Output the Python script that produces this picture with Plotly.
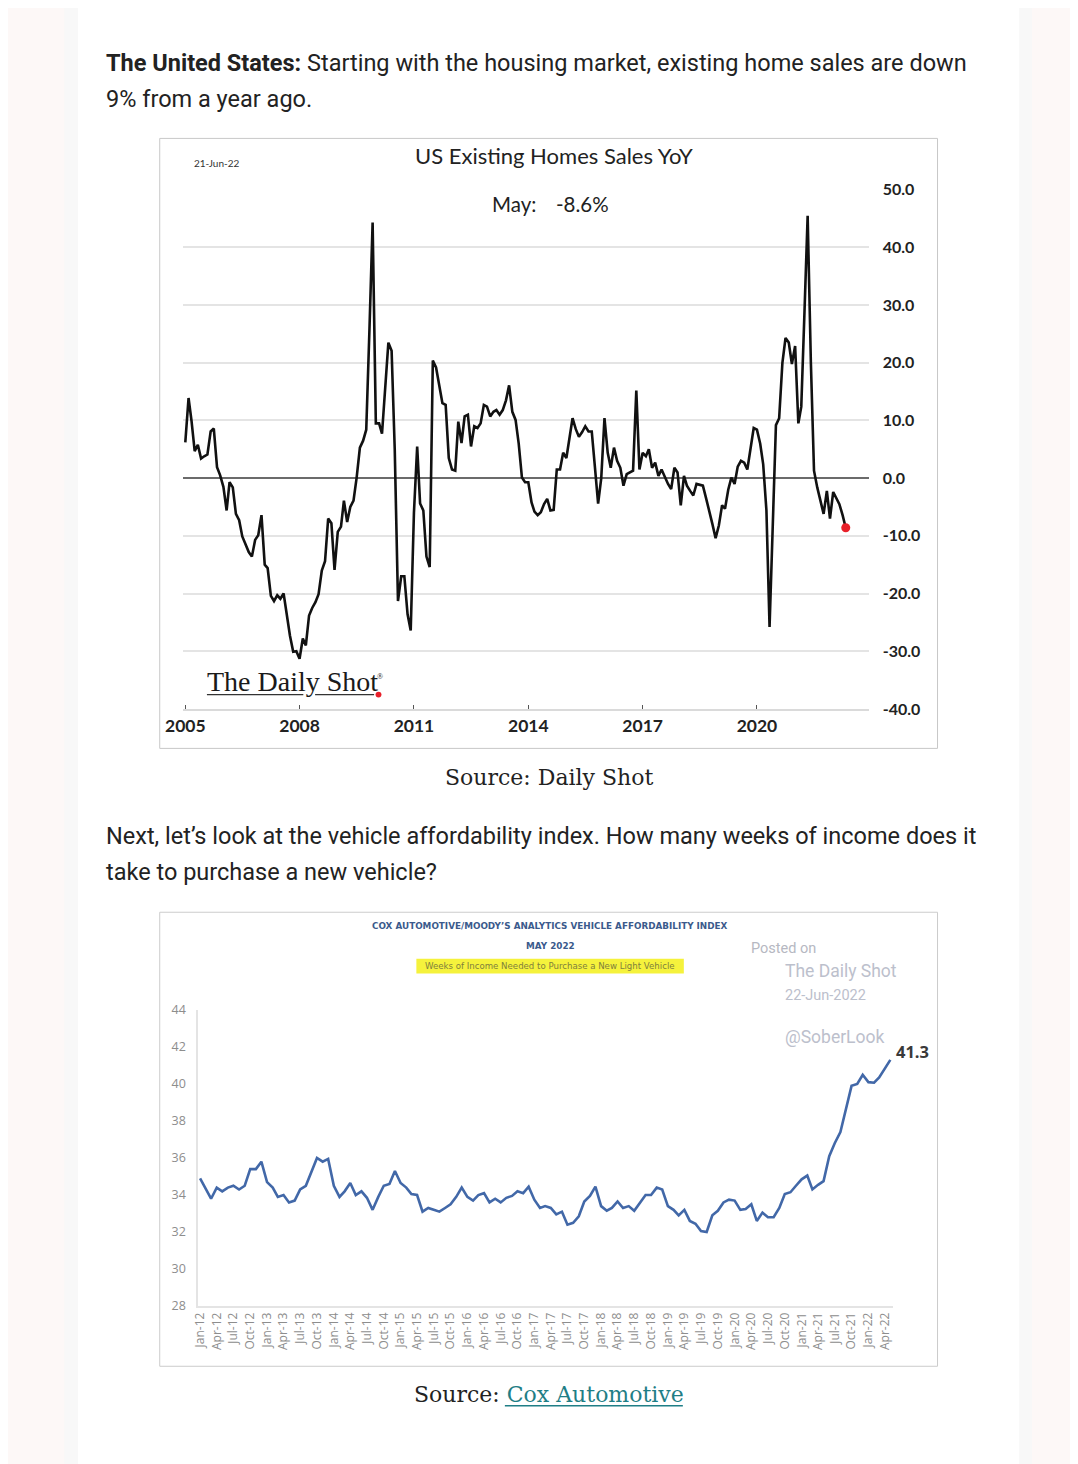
import plotly.graph_objects as go
import pandas as pd

W, H = 1078, 1464
OFF = 8  # the page body margin shifts the figure by 8px


def px(x):
    return (x - OFF) / W


def py(y):
    return 1 - (y - OFF) / H


# ---------------- Data: US existing home sales YoY (%), monthly Jan-2005 .. May-2022
home_sales_yoy = [
    6.2, 13.9, 10.0, 4.7, 5.8, 3.4, 3.8, 4.1, 8.1, 8.6, 1.9, 0.5,
    -1.5, -5.6, -0.7, -1.6, -6.2, -7.3, -10.1, -11.6, -12.8, -13.6, -10.7, -9.9,
    -6.4, -15.0, -15.6, -20.4, -21.3, -20.3, -20.9, -20.0, -24.0, -27.3, -30.1, -30.0,
    -31.3, -27.8, -29.0, -23.8, -22.5, -21.5, -20.1, -16.0, -14.4, -7.0, -7.8, -15.9,
    -9.3, -8.4, -3.9, -7.6, -5.0, -3.9, 0.1, 5.3, 6.5, 8.4, 26.0, 44.3,
    9.5, 9.5, 7.7, 16.0, 23.5, 22.1, 5.0, -21.3, -17.0, -17.0, -23.6, -26.4,
    -6.0, 5.5, -4.4, -5.6, -13.6, -15.4, 20.4, 19.2, 16.0, 13.0, 12.7, 3.5,
    1.5, 1.3, 9.8, 6.1, 10.7, 11.0, 5.5, 9.0, 8.7, 9.5, 12.7, 12.4,
    10.7, 11.5, 11.8, 11.0, 11.8, 13.5, 16.1, 11.5, 10.1, 6.0, 0.1, -0.7,
    -0.7, -4.2, -5.8, -6.4, -5.9, -4.5, -3.6, -5.6, -5.5, 1.5, 1.5, 4.4,
    3.5, 7.2, 10.4, 8.5, 7.2, 8.0, 9.0, 8.1, 8.1, 2.0, -4.4, 0.0,
    10.4, 4.4, 1.8, 5.3, 3.0, 1.8, -1.3, 0.7, 1.0, 1.3, 15.2, 1.5,
    4.4, 3.8, 5.0, 1.8, 2.7, 0.4, 1.5, 0.1, -1.0, -1.9, 1.8, 1.0,
    -4.7, 0.4, -1.3, -2.2, -3.0, -1.0, -1.2, -1.3, -3.5, -5.6, -8.0, -10.4,
    -8.2, -4.7, -5.3, -2.0, 0.1, -1.0, 2.0, 3.0, 2.7, 1.5, 5.0, 8.7,
    8.4, 6.0, 2.4, -5.6, -25.8, -8.4, 9.2, 10.4, 20.0, 24.3, 23.5, 19.8,
    22.9, 9.5, 12.4, 29.0, 45.5, 20.0, 1.3, -1.6, -4.0, -6.2, -2.2, -7.0,
    -2.4, -3.5, -4.5, -6.4, -8.6,
]
home_dates = pd.date_range("2005-01-01", periods=len(home_sales_yoy), freq="MS")

home_ytick_vals = [-40, -30, -20, -10, 0, 10, 20, 30, 40, 50]
home_ytick_text = ["-40.0", "-30.0", "-20.0", "-10.0", "0.0",
                   "10.0", "20.0", "30.0", "40.0", "50.0"]

# ---------------- Data: Cox/Moody's vehicle affordability (weeks of income), Jan-2012 .. May-2022
weeks_of_income = [
    34.9, 34.3, 33.8, 34.4, 34.2, 34.4, 34.5, 34.3, 34.5, 35.4, 35.4, 35.8,
    34.7, 34.4, 33.9, 34.0, 33.6, 33.7, 34.3, 34.5, 35.3, 36.0, 35.8, 35.95,
    34.5, 33.9, 34.2, 34.65, 34.0, 34.2, 33.85, 33.2, 33.9, 34.5, 34.6, 35.3,
    34.65, 34.4, 34.05, 34.0, 33.1, 33.3, 33.2, 33.1, 33.3, 33.5, 33.9, 34.4,
    33.9, 33.7, 34.0, 34.1, 33.6, 33.8, 33.6, 33.85, 33.95, 34.2, 34.1, 34.45,
    33.75, 33.3, 33.4, 33.3, 32.95, 33.1, 32.4, 32.5, 32.85, 33.65, 33.95, 34.45,
    33.4, 33.15, 33.3, 33.65, 33.3, 33.4, 33.15, 33.6, 34.0, 34.0, 34.4, 34.3,
    33.4, 33.2, 32.9, 33.2, 32.6, 32.45, 32.05, 32.0, 32.9, 33.15, 33.6, 33.75,
    33.7, 33.2, 33.25, 33.5, 32.6, 33.05, 32.8, 32.8, 33.3, 34.05, 34.15, 34.5,
    34.85, 35.05, 34.3, 34.55, 34.75, 36.1, 36.8, 37.4, 38.6, 39.9, 40.0, 40.5,
    40.1, 40.07, 40.35, 40.8, 41.3,
]
vehicle_dates = pd.date_range("2012-01-01", periods=len(weeks_of_income), freq="MS")
vehicle_ytick_vals = [28, 30, 32, 34, 36, 38, 40, 42, 44]

fig = go.Figure()

fig.add_trace(go.Scatter(
    x=home_dates, y=home_sales_yoy, mode="lines",
    line=dict(color="#111111", width=2.6), xaxis="x", yaxis="y",
    hoverinfo="skip", showlegend=False))
fig.add_trace(go.Scatter(
    x=[home_dates[-1]], y=[home_sales_yoy[-1]], mode="markers",
    marker=dict(color="#e8202a", size=9), xaxis="x", yaxis="y",
    hoverinfo="skip", showlegend=False))
fig.add_trace(go.Scatter(
    x=vehicle_dates, y=weeks_of_income, mode="lines",
    line=dict(color="#4268a8", width=2.6), xaxis="x2", yaxis="y2",
    hoverinfo="skip", showlegend=False))

shapes = [
    # page background column
    dict(type="rect", xref="paper", yref="paper", x0=px(47), x1=px(1031), y0=-0.1, y1=1.1,
         fillcolor="#f8f8f8", line=dict(width=0), layer="below"),
    dict(type="rect", xref="paper", yref="paper", x0=px(61), x1=px(1018), y0=-0.1, y1=1.1,
         fillcolor="#ffffff", line=dict(width=0), layer="below"),
    # chart borders
    dict(type="rect", xref="paper", yref="paper", x0=px(144), x1=px(935), y0=py(748), y1=py(130),
         fillcolor="rgba(0,0,0,0)", line=dict(color="#c8c8c8", width=1)),
    dict(type="rect", xref="paper", yref="paper", x0=px(144), x1=px(935), y0=py(1374), y1=py(914),
         fillcolor="rgba(0,0,0,0)", line=dict(color="#cccccc", width=1)),
    # white box behind "May: -8.6%"
    dict(type="rect", xref="paper", yref="paper", x0=px(469), x1=px(608), y0=py(187), y1=py(177),
         fillcolor="#ffffff", line=dict(width=0), layer="above"),
    # Daily Shot logo underlines + red dot
    dict(type="line", xref="paper", yref="paper", x0=px(192), x1=px(290), y0=py(693.5), y1=py(693.5),
         line=dict(color="#333333", width=1.4)),
    dict(type="line", xref="paper", yref="paper", x0=px(302), x1=px(362), y0=py(693.5), y1=py(693.5),
         line=dict(color="#333333", width=1.4)),
    dict(type="circle", xref="paper", yref="paper", x0=px(363.5), x1=px(369.5), y0=py(696.5), y1=py(690.5),
         fillcolor="#e8202a", line=dict(width=0)),
    # yellow highlight
    dict(type="rect", xref="paper", yref="paper", x0=px(405), x1=px(677), y0=py(976), y1=py(961),
         fillcolor="#f5f23c", line=dict(width=0), layer="above"),
    # link underline
    dict(type="line", xref="paper", yref="paper", x0=px(495), x1=px(676), y0=py(1414), y1=py(1414),
         line=dict(color="#1f7e86", width=1.5)),
]

body = dict(family="Roboto", size=23.5, color="#222222")
serif = dict(family="DejaVu Serif", size=22, color="#222222")
wm = "#bcc0cc"


def ann(text, x, y, font, xanchor="center", yanchor="middle"):
    return dict(text=text, x=px(x), y=py(y), xref="paper", yref="paper",
                xanchor=xanchor, yanchor=yanchor, showarrow=False, font=font)


annotations = [
    ann("<b>The United States:</b> Starting with the housing market, existing home sales are down",
        87, 54, body, xanchor="left"),
    ann("9% from a year ago.", 87, 90, body, xanchor="left"),
    ann("21-Jun-22", 177, 155, dict(family="Lato", size=10, color="#333333"), xanchor="left"),
    ann("US Existing Homes Sales YoY", 545, 147, dict(family="Lato", size=22, color="#222222")),
    ann("May:", 504.5, 196, dict(family="Lato", size=20.5, color="#222222")),
    ann("-8.6%", 574, 196, dict(family="Lato", size=20.5, color="#222222")),
    ann("The Daily Shot", 190, 680, dict(family="Liberation Serif", size=28, color="#1a1a1a"),
        xanchor="left"),
    ann("®", 368, 675, dict(family="Liberation Serif", size=8, color="#1a1a1a")),
    ann("Source: Daily Shot", 540, 777, serif),
    ann("Next, let’s look at the vehicle affordability index. How many weeks of income does it",
        87, 837, body, xanchor="left"),
    ann("take to purchase a new vehicle?", 87, 873, body, xanchor="left"),
    ann("COX AUTOMOTIVE/MOODY’S ANALYTICS VEHICLE AFFORDABILITY INDEX", 541, 928,
        dict(family="DejaVu Sans", size=8.8, color="#3b5a8c", weight="bold")),
    ann("MAY 2022", 541, 948, dict(family="DejaVu Sans", size=8.8, color="#3b5a8c", weight="bold")),
    ann("Weeks of Income Needed to Purchase a New Light Vehicle", 541, 968.5,
        dict(family="DejaVu Sans", size=8.6, color="#7f7f3c")),
    ann("Posted on", 743, 951, dict(family="Roboto", size=14.5, color="#b6b8c2"), xanchor="left"),
    ann("The Daily Shot", 778, 974, dict(family="Roboto", size=17.5, color=wm), xanchor="left"),
    ann("22-Jun-2022", 778, 998, dict(family="Roboto", size=14.5, color=wm), xanchor="left"),
    ann("@SoberLook", 778, 1040, dict(family="Roboto", size=17.5, color=wm), xanchor="left"),
    ann("Source: <span style='color:#1f7e86'>Cox Automotive</span>", 540, 1403, serif),
    dict(text="41.3", x=vehicle_dates[-1], y=weeks_of_income[-1], xref="x2", yref="y2",
         xanchor="left", yanchor="middle", xshift=4, yshift=8, showarrow=False,
         font=dict(family="Open Sans", size=16.5, color="#3a3a3a", weight="bold")),
]

fig.update_layout(
    width=W, height=H, margin=dict(l=0, r=0, t=0, b=0),
    paper_bgcolor="#fdf8f7", plot_bgcolor="#ffffff", showlegend=False,
    shapes=shapes, annotations=annotations,
    xaxis=dict(
        domain=[px(168), px(865)], anchor="y", type="date",
        range=["2004-12-13", "2022-12-07"],
        tick0="2005-01-01", dtick="M36", tickformat="%Y",
        ticks="inside", ticklen=4, tickcolor="#555555", tickwidth=1,
        showline=True, linecolor="#dadada", linewidth=1.5,
        showgrid=False, zeroline=False,
        tickfont=dict(family="Lato", size=17.5, color="#222222", weight="bold"),
    ),
    yaxis=dict(
        domain=[py(708), py(182)], anchor="x", side="right",
        range=[-40, 50], tickvals=home_ytick_vals, ticktext=home_ytick_text,
        showgrid=True, gridcolor="#e4e4e4", gridwidth=1.5,
        zeroline=True, zerolinecolor="#6b6b6b", zerolinewidth=1.5,
        showline=False, ticks="", ticklabelstandoff=13,
        tickfont=dict(family="Lato", size=16, color="#222222", weight="bold"),
    ),
    xaxis2=dict(
        domain=[px(183), px(890)], anchor="y2", type="date",
        range=["2011-12-21", "2022-05-17"],
        tick0="2012-01-01", dtick="M3", tickformat="%b-%y", tickangle=-90,
        showline=True, linecolor="#e4e4e4", linewidth=1.5,
        showgrid=False, zeroline=False, ticks="",
        tickfont=dict(family="Open Sans", size=12, color="#8d8d8d"),
    ),
    yaxis2=dict(
        domain=[py(1313), py(1013)], anchor="x2",
        range=[28, 44], tickvals=vehicle_ytick_vals,
        showline=True, linecolor="#e4e4e4", linewidth=1.5,
        showgrid=False, zeroline=False, ticks="", ticklabelstandoff=8,
        tickfont=dict(family="Open Sans", size=12.5, color="#8d8d8d"),
    ),
)

fig.write_html("out.html")
